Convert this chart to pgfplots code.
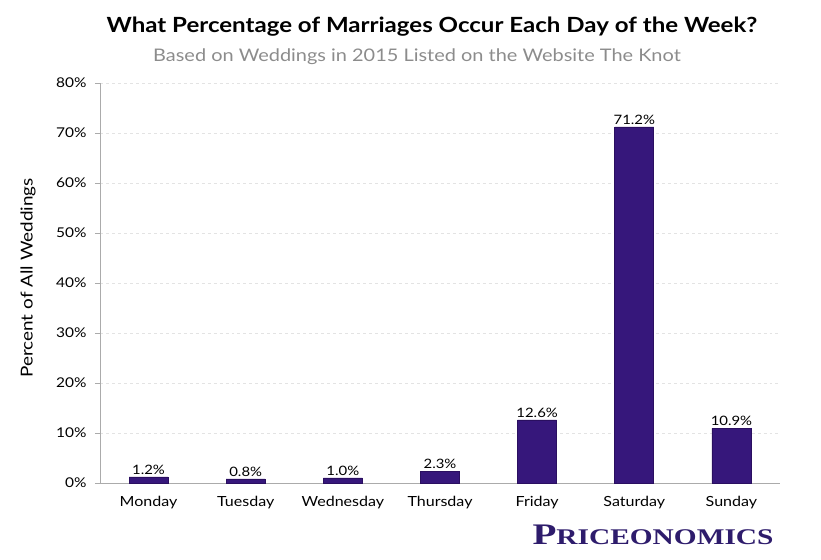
\documentclass[border=0pt]{standalone}
\usepackage{pgfplots}
\pgfplotsset{compat=1.18}
\usepackage{fontspec}
\setmainfont[FakeStretch=1.15]{Lato}
\newfontfamily\logofont[FakeStretch=1.31]{Liberation Serif}
\definecolor{barcol}{HTML}{36177B}
\definecolor{baredge}{HTML}{2A0F60}
\definecolor{logocol}{HTML}{2E1C6C}
\definecolor{subgray}{HTML}{8C8C8C}
\definecolor{axgray}{HTML}{ABABAB}
\begin{document}
\begin{tikzpicture}[x=1bp,y=1bp]
\useasboundingbox (-100,-77) rectangle (721,483);
\begin{axis}[
  at={(0,0)}, anchor=south west,
  scale only axis, width=680bp, height=400bp,
  xmin=-0.5, xmax=6.5, ymin=0, ymax=80,
  xtick={0,...,6},
  xticklabels={Monday,Tuesday,Wednesday,Thursday,Friday,Saturday,Sunday},
  extra x ticks={-0.5,0.5,1.5,2.5,3.5,4.5,5.5,6.5},
  extra x tick labels={},
  extra x tick style={major tick length=6bp, tick style={axgray, line width=0.8pt}, tick align=outside, grid=none},
  ytick={0,10,...,80},
  yticklabel={\pgfmathprintnumber{\tick}\%},
  /pgf/number format/assume math mode=true,
  axis x line*=bottom, axis y line*=left,
  axis line style={axgray, line width=0.8pt},
  x axis line style={-}, y axis line style={-},
  tick align=outside,
  major tick length=5bp,
  tick style={axgray, line width=0.8pt},
  xtick style={draw=none},
  ymajorgrids,
  grid style={dashed, gray!22, line width=0.5pt},
  xticklabel style={font=\fontsize{14}{16}\selectfont, text=black, yshift=-5bp},
  yticklabel style={font=\fontsize{13.5}{15}\selectfont, text=black, xshift=-5bp},
  ybar, bar width=39bp, bar shift=0pt,
  nodes near coords={\pgfmathprintnumber[fixed,precision=1,fixed zerofill]{\pgfplotspointmeta}\%},
  every node near coord/.append style={font=\fontsize{13}{15}\selectfont, text=black, yshift=-1bp},
  clip=false,
]
\addplot[fill=barcol, draw=baredge, line width=0.6pt] coordinates {
 (0,1.2) (1,0.8) (2,1.0) (3,2.3) (4,12.6) (5,71.2) (6,10.9)
};
\end{axis}
\node[rotate=90, font=\fontsize{16.5}{18}\selectfont] at (-72,205) {Percent of All Weddings};
\node[font=\bfseries\fontsize{21}{24}\selectfont, anchor=base] at (332,450) {What Percentage of Marriages Occur Each Day of the Week?};
\node[font=\fontsize{17.4}{20}\selectfont, text=subgray, anchor=base] at (317,421) {Based on Weddings in 2015 Listed on the Website The Knot};
\node[font=\logofont\bfseries, text=logocol, anchor=base east] at (677,-62) {\fontsize{30}{32}\selectfont P\fontsize{22.5}{25}\selectfont RICEONOMICS};
\end{tikzpicture}
\end{document}
